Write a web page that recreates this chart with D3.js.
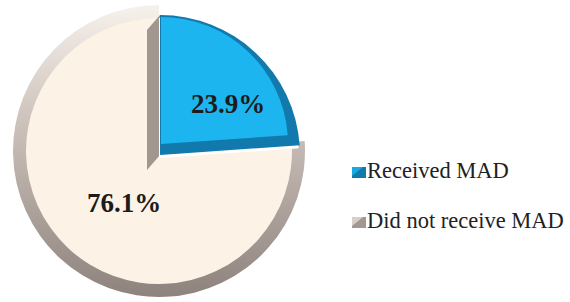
<!DOCTYPE html>
<html>
<head>
<meta charset="utf-8">
<script src="https://cdn.jsdelivr.net/npm/d3@7"></script>
<style>
  body { margin: 0; background: #fff; }
  svg { display: block; }
</style>
</head>
<body>
<div id="chart"></div>
<script>
// chart size
const svg_w = 570;
const svg_h = 302;
const serif = '"Liberation Serif", "Times New Roman", serif';

// data
const categories = ["Received MAD", "Did not receive MAD"];
const values = [23.9, 76.1];
const labels = ["23.9%", "76.1%"];

// colours for the two slices
const topColors = ["#1cb5ef", "#fdf2e6"];
const edgeColors = ["#1279ad", "#a39891"];

// pie geometry
const cx = 159, cy = 151;
const r = 133;        // cream top face
const rimR = 146;     // grey rim around cream slice
const blueOff = [1, 4];  // blue slice sits slightly lower/right
const blueR = 140;
const depth = [-13, 15]; // visible side of the raised slice

const svg = d3.select("#chart")
  .append("svg")
  .attr("width", svg_w)
  .attr("height", svg_h);

const defs = svg.append("defs");
const rimGrad = defs.append("linearGradient")
  .attr("id", "rimGrad")
  .attr("x1", 0).attr("y1", 0).attr("x2", 0).attr("y2", 1);
rimGrad.append("stop").attr("offset", "0%").attr("stop-color", "#f7f1ec");
rimGrad.append("stop").attr("offset", "35%").attr("stop-color", "#d2c8c1");
rimGrad.append("stop").attr("offset", "100%").attr("stop-color", "#8d837c");

const pie = d3.pie().sort(null).value(d => d);
const arcs = pie(values);

const g = svg.append("g").attr("transform", `translate(${cx},${cy})`);

// cream slice: rim + top face
const cream = arcs[1];
g.append("path")
  .attr("d", d3.arc().innerRadius(0).outerRadius(rimR)(cream))
  .attr("fill", "url(#rimGrad)");
g.append("path")
  .attr("d", d3.arc().innerRadius(0).outerRadius(r)(cream))
  .attr("fill", topColors[1]);

// blue slice, raised
const blue = arcs[0];
const bg = g.append("g").attr("transform", `translate(${blueOff[0]},${blueOff[1]})`);

// left side face of the raised slice (along its start edge)
const a0 = blue.startAngle;
const p0 = [0, 0];
const p1 = [blueR * Math.sin(a0), -blueR * Math.cos(a0)];
bg.append("path")
  .attr("d", d3.line()([
    p0, p1,
    [p1[0] + depth[0], p1[1] + depth[1]],
    [p0[0] + depth[0], p0[1] + depth[1]]
  ]))
  .attr("fill", "#a2978f");

// thin light line under the blue slice
bg.append("path")
  .attr("d", d3.arc().innerRadius(0).outerRadius(blueR)(blue))
  .attr("transform", "translate(-1,3)")
  .attr("fill", "#ffffff");

// dark bevel
bg.append("path")
  .attr("d", d3.arc().innerRadius(0).outerRadius(blueR)(blue))
  .attr("fill", edgeColors[0]);
// bright top face, inset towards the top-left
bg.append("path")
  .attr("d", d3.arc().innerRadius(0).outerRadius(blueR - 13)(blue))
  .attr("transform", "translate(1,-11)")
  .attr("fill", topColors[0]);

// value labels
const labelPos = [[228, 113], [124, 212]];
svg.selectAll("text.val")
  .data(labels)
  .enter()
  .append("text")
  .attr("class", "val")
  .attr("x", (d, i) => labelPos[i][0])
  .attr("y", (d, i) => labelPos[i][1])
  .attr("text-anchor", "middle")
  .style("font-family", serif)
  .attr("font-weight", "bold")
  .attr("font-size", 27)
  .attr("fill", "#1c1c1c")
  .text(d => d);

// legend
const legend = svg.append("g").attr("transform", "translate(352,167)");
const item = legend.selectAll("g")
  .data(categories)
  .enter()
  .append("g")
  .attr("transform", (d, i) => `translate(0,${i * 50})`);

item.append("rect")
  .attr("width", 14).attr("height", 11)
  .attr("fill", (d, i) => edgeColors[i]);
item.append("path")
  .attr("d", "M0,0H11L0,9Z")
  .attr("fill", (d, i) => i === 0 ? topColors[0] : "#e3ddd8")
  .attr("opacity", 0.8);

item.append("text")
  .attr("x", 15)
  .attr("y", 11)
  .style("font-family", serif)
  .attr("font-size", 22.5)
  .attr("fill", "#222")
  .text(d => d);
</script>
</body>
</html>
